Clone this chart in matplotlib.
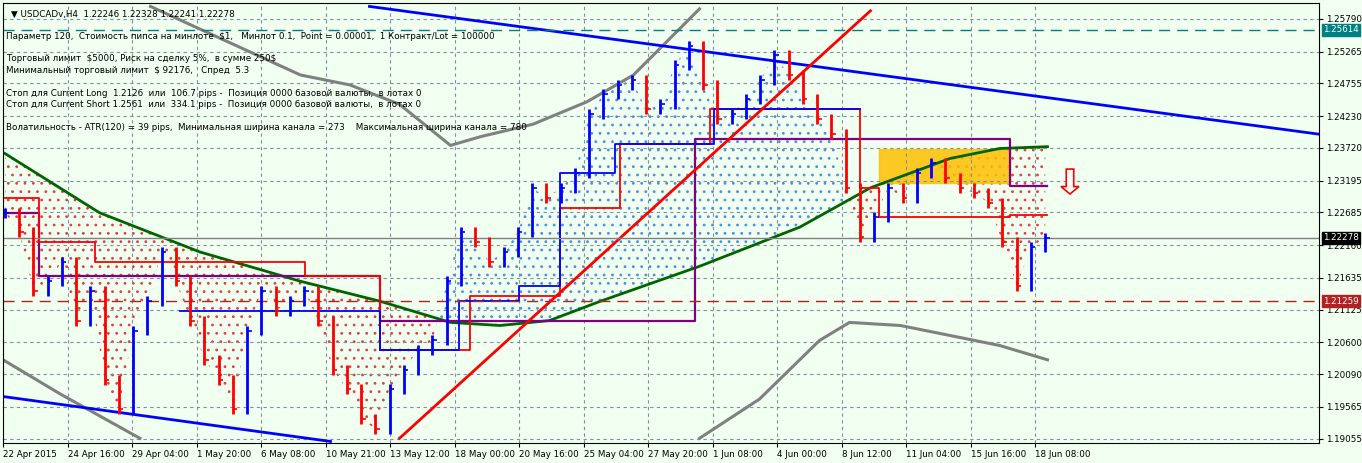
import numpy as np
import matplotlib
matplotlib.use("Agg")
from matplotlib import pyplot as plt
from matplotlib.patches import Rectangle, FancyArrow

plt.rcParams['text.parse_math'] = False
plt.rcParams['hatch.linewidth'] = 0.8

# closes, one value per 4 H4 bars
closes = [1.2268, 1.2237, 1.2142, 1.2158, 1.2189, 1.2095, 1.2142, 1.2000, 1.1953, 1.2079,
          1.2126, 1.2205, 1.2158, 1.2095, 1.2032, 1.2000, 1.1953, 1.2079, 1.2142, 1.2111,
          1.2126, 1.2142, 1.2095, 1.2016, 1.1985, 1.1937, 1.1921, 1.1985, 1.2016, 1.2048,
          1.2063, 1.2158, 1.2237, 1.2221, 1.2189, 1.2205, 1.2237, 1.2308, 1.2292, 1.2308,
          1.2331, 1.2426, 1.2458, 1.2473, 1.2481, 1.2434, 1.2442, 1.2505, 1.2536, 1.2473,
          1.2418, 1.2426, 1.2450, 1.2481, 1.2521, 1.2489, 1.2450, 1.2418, 1.2395, 1.2308,
          1.2229, 1.2261, 1.2308, 1.2292, 1.2331, 1.2347, 1.2324, 1.2308, 1.2300, 1.2284,
          1.2221, 1.2150, 1.2213, 1.2228]
bar_step = 0.95

ma_x = [0, 6.3, 13, 19.7, 25, 29.7, 33, 36.3, 39.7, 46.3, 53, 57.7, 63, 66.3, 69.5]
ma_y = [1.2363, 1.2268, 1.2205, 1.2158, 1.2126, 1.2092, 1.2087, 1.2095, 1.2126, 1.2182,
        1.2245, 1.2308, 1.2355, 1.2371, 1.2374]

purple_x = [0, 2.3, 25, 37, 46, 67, 69.5]
purple_y = [1.2268, 1.2166, 1.2095, 1.2095, 1.2387, 1.2311, 1.2311]
red_x = [0, 2.3, 6, 8, 20, 25, 31, 37, 41, 47, 57, 58.3, 67, 69.5]
red_y = [1.2292, 1.2221, 1.2189, 1.2189, 1.2166, 1.2048, 1.2134, 1.2276, 1.2379, 1.2434, 1.2308, 1.2261, 1.2264, 1.2264]
blue_x = [11.7, 25, 30.3, 34.3, 37, 40.7, 47.3, 57]
blue_y = [1.2111, 1.2048, 1.2126, 1.2150, 1.2331, 1.2379, 1.2434, 1.2434]

gray_up_x = [9.7, 19.7, 23, 26.3, 29.7, 31.7, 35.2, 38.8, 41.9, 46.3]
gray_up_y = [1.2599, 1.2489, 1.2473, 1.2442, 1.2376, 1.2390, 1.2410, 1.2446, 1.2489, 1.2595]
gray_ll_x = [-0.13, 3.7, 9]
gray_ll_y = [1.2032, 1.1977, 1.1906]
gray_lr_x = [46.3, 50.3, 54.3, 56.3, 59.7, 63, 66.3, 69.5]
gray_lr_y = [1.1906, 1.1969, 1.2063, 1.2092, 1.2087, 1.2071, 1.2055, 1.2032]

chan_top = ([24.3, 87.6], [1.2599, 1.2394])
chan_bot = ([-0.1, 21.7], [1.1973, 1.1901])
trend_red = ([26.3, 57.7], [1.1906, 1.2592])

date_labels = ["22 Apr 2015", "24 Apr 16:00", "29 Apr 04:00", "1 May 20:00", "6 May 08:00",
               "10 May 21:00", "13 May 12:00", "18 May 00:00", "20 May 16:00", "25 May 04:00",
               "27 May 20:00", "1 Jun 08:00", "4 Jun 00:00", "8 Jun 12:00", "11 Jun 04:00",
               "15 Jun 16:00", "18 Jun 08:00"]
price_ticks = [1.25790, 1.25265, 1.24755, 1.24230, 1.23720, 1.23195, 1.22685, 1.22160,
               1.21635, 1.21125, 1.20600, 1.20090, 1.19565, 1.19055]

info = ["Параметр 120,  Стоимость пипса на минлоте  $1,   Минлот 0.1,  Point = 0.00001,  1 Контракт/Lot = 100000",
        "", "Торговый лимит  $5000, Риск на сделку 5%,  в сумме 250$",
        "Минимальный торговый лимит  $ 92176,   Спред  5.3", "",
        "Стоп для Current Long  1.2126  или  106.7 pips -  Позиция 0000 базовой валюты,  в лотах 0",
        "Стоп для Current Short 1.2561  или  334.1 pips -  Позиция 0000 базовой валюты,  в лотах 0", "",
        "Волатильность - ATR(120) = 39 pips,  Минимальная ширина канала = 273    Максимальная ширина канала = 780"]

fig = plt.figure(figsize=(13.62, 4.63), dpi=100)
fig.patch.set_facecolor("#F0FFF0")
ax = fig.add_axes([3 / 1362, 20 / 463, 1316 / 1362, 440 / 463])
ax.set_facecolor("#F0FFF0")
ax.set_xlim(-0.13, 87.6)
ax.set_ylim(1.18985, 1.26045)

n = len(closes)
xi = np.arange(n) * bar_step
c = np.array(closes)
ma_i = np.interp(xi, ma_x, ma_y)
up = c >= ma_i
ax.fill_between(xi, c, ma_i, where=~up, interpolate=True, facecolor="none",
                edgecolor="#E04040", hatch="..", lw=0)
ax.fill_between(xi, c, ma_i, where=up, interpolate=True, facecolor="none",
                edgecolor="#4A90E0", hatch="..", lw=0)

ax.plot(gray_up_x, gray_up_y, color="#808080", lw=2.2)
ax.plot(gray_ll_x, gray_ll_y, color="#808080", lw=2.2)
ax.plot(gray_lr_x, gray_lr_y, color="#808080", lw=2.2)
ax.plot(ma_x, ma_y, color="#006400", lw=2)
ax.step(purple_x, purple_y, where="post", color="#800080", lw=1.6)
ax.step(red_x, red_y, where="post", color="red", lw=1.3)
ax.step(blue_x, blue_y, where="post", color="blue", lw=1.3)
ax.plot(*chan_top, color="blue", lw=2)
ax.plot(*chan_bot, color="blue", lw=2)
ax.plot(*trend_red, color="red", lw=2)

ax.add_patch(Rectangle((58.3, 1.2316), 8.7, 0.0055, color="#FFC000", alpha=0.85, zorder=1))

# bars
for i in range(n):
    o = closes[i - 1] if i > 0 else closes[0]
    col = "blue" if c[i] >= o else "red"
    hi = max(o, c[i]) + 0.0008
    lo = min(o, c[i]) - 0.0008
    ax.vlines(xi[i], lo, hi, color=col, lw=2, zorder=4)
    ax.hlines(c[i], xi[i], xi[i] + 0.3, color=col, lw=1.2, zorder=4)

ax.axhline(1.25614, color="#008080", ls=(0, (8, 5)), lw=1)
ax.axhline(1.21259, color="#B22222", ls=(0, (8, 5)), lw=1)
ax.axhline(1.22278, color="#808080", lw=1)
ax.add_patch(FancyArrow(71, 1.2338, 0, -0.0028, width=0.5, head_width=1.2, head_length=0.0012,
                        facecolor="white", edgecolor="red", lw=1.2, zorder=6))

ax.set_xticks(np.arange(len(date_labels)) * 4.3 - 0.13)
ax.set_xticklabels(date_labels, fontsize=6.3, ha="left")
ax.yaxis.tick_right()
ax.set_yticks(price_ticks)
ax.set_yticklabels(["%.5f" % p for p in price_ticks], fontsize=6.3)
ax.tick_params(length=3, pad=2)
ax.grid(True, ls=(0, (3, 3)), color="#8090A0", lw=0.8)

for val, bg, fg in [(1.25614, "#008080", "white"), (1.21259, "#B22222", "white"),
                    (1.22278, "black", "white")]:
    ax.text(1.003, val, "%.5f" % val, transform=ax.get_yaxis_transform(), fontsize=6.3,
            color=fg, va="center", bbox=dict(boxstyle="square,pad=0.15", fc=bg, ec=bg))

ax.text(0.006, 0.985, "▼ USDCADv,H4  1.22246 1.22328 1.22241 1.22278", transform=ax.transAxes,
        fontsize=6.3, va="top")
ax.text(0.002, 0.935, "\n".join(info), transform=ax.transAxes, fontsize=6.3, va="top",
        linespacing=1.35)
for s in ax.spines.values():
    s.set_color("black")

fig.savefig("out.png", dpi=100, facecolor=fig.get_facecolor())
